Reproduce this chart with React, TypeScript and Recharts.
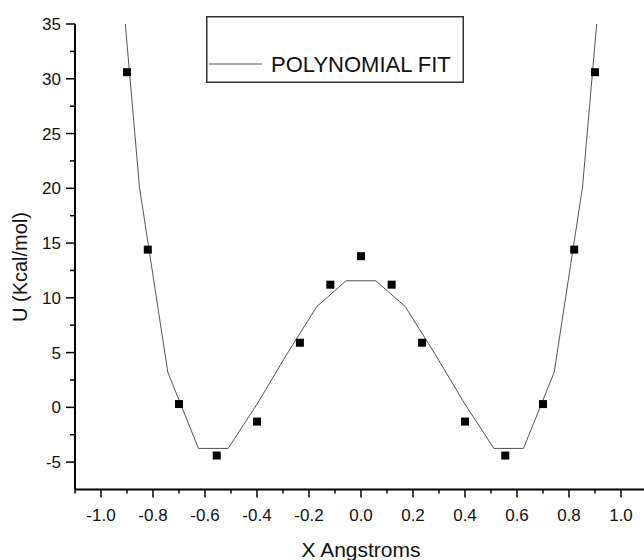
import React from 'react';
import { ComposedChart, Line, Scatter, XAxis, YAxis, Legend } from 'recharts';

const fitX = [-0.965, -0.852, -0.743, -0.625, -0.511, -0.397, -0.284, -0.17, -0.057, 0.057, 0.17, 0.284, 0.397, 0.511, 0.625, 0.743, 0.852, 0.965];
const fitU = [51, 20.1, 3.2, -3.75, -3.75, 0.4, 4.9, 9.2, 11.56, 11.56, 9.2, 4.9, 0.4, -3.75, -3.75, 3.2, 20.1, 51];

// Computed points (black squares)
const pointX = [-0.9, -0.82, -0.7, -0.555, -0.4, -0.235, -0.118, 0, 0.118, 0.235, 0.4, 0.555, 0.7, 0.82, 0.9];
const pointU = [30.6, 14.4, 0.3, -4.4, -1.3, 5.9, 11.2, 13.8, 11.2, 5.9, -1.3, -4.4, 0.3, 14.4, 30.6];

const xTicks = [-1.1, -1.0, -0.9, -0.8, -0.7, -0.6, -0.5, -0.4, -0.3, -0.2, -0.1, 0, 0.1, 0.2, 0.3, 0.4, 0.5, 0.6, 0.7, 0.8, 0.9, 1.0, 1.1];
const xMajorTicks = [-1.0, -0.8, -0.6, -0.4, -0.2, 0, 0.2, 0.4, 0.6, 0.8, 1.0];
const yTicks = [-5, -2.5, 0, 2.5, 5, 7.5, 10, 12.5, 15, 17.5, 20, 22.5, 25, 27.5, 30, 32.5, 35];
const yMajorTicks = [-5, 0, 5, 10, 15, 20, 25, 30, 35];

const seriesName = 'POLYNOMIAL FIT';
const xTitle = 'X Angstroms';
const yTitle = 'U (Kcal/mol)';

const fitData = fitX.map((x, i) => ({ x, y: fitU[i] }));
const pointData = pointX.map((x, i) => ({ x, y: pointU[i] }));

const FONT = '"Liberation Sans", Arial, sans-serif';

const isMajor = (v: number, list: number[]) => list.some((m) => Math.abs(m - v) < 1e-6);

const XTick = (props: any) => {
  const { x, y, payload } = props;
  const v = payload.value as number;
  const major = isMajor(v, xMajorTicks);
  return (
    <g>
      <line x1={x} y1={y} x2={x} y2={y + (major ? 8 : 4)} stroke="#000" strokeWidth={1.5} />
      {major && (
        <text x={x} y={y + 31} textAnchor="middle" fontFamily={FONT} fontSize={17} fill="#111">
          {v.toFixed(1)}
        </text>
      )}
    </g>
  );
};

const YTick = (props: any) => {
  const { x, y, payload } = props;
  const v = payload.value as number;
  const major = isMajor(v, yMajorTicks);
  return (
    <g>
      <line x1={x - (major ? 9 : 5)} y1={y} x2={x} y2={y} stroke="#000" strokeWidth={1.5} />
      {major && (
        <text x={x - 14} y={y} dy="0.36em" textAnchor="end" fontFamily={FONT} fontSize={17} fill="#111">
          {String(v)}
        </text>
      )}
    </g>
  );
};

const LegendBox = () => (
  <svg width={258} height={67} style={{ display: 'block' }}>
    <rect x={0.75} y={0.75} width={256.5} height={65.5} fill="#fff" stroke="#333" strokeWidth={1.5} />
    <line x1={3} y1={48} x2={56} y2={48} stroke="#555" strokeWidth={1} />
    <text x={65} y={56} fontFamily={FONT} fontSize={22} fill="#111">
      {seriesName}
    </text>
  </svg>
);

const YLabel = () => (
  <text
    x={19.5}
    y={267}
    transform="rotate(-90 19.5 267)"
    textAnchor="middle"
    dominantBaseline="central"
    fontFamily={FONT}
    fontSize={20}
    fill="#111"
  >
    {yTitle}
  </text>
);

const XLabel = (props: any) => {
  const vb = props.viewBox || {};
  const cx = (vb.x || 0) + (vb.width || 0) / 2;
  return (
    <text x={cx} y={556.5} textAnchor="middle" fontFamily={FONT} fontSize={21} fill="#111">
      {xTitle}
    </text>
  );
};

const Square = (props: any) => {
  const { cx, cy } = props;
  if (cx == null || cy == null) return null;
  return <rect x={cx - 4} y={cy - 4} width={8} height={8} fill="#000" />;
};

export default function App() {
  return (
    <div style={{ position: 'absolute', left: 0, top: 0, width: 644, height: 560, overflow: 'hidden', background: '#fff' }}>
      <ComposedChart width={650} height={560} margin={{ top: 24, right: 3, bottom: 30.5, left: 15 }}>
        <XAxis
          type="number"
          dataKey="x"
          domain={[-1.1, 1.1]}
          allowDataOverflow
          ticks={xTicks}
          interval={0}
          tickSize={0}
          tickMargin={0}
          tickLine={false}
          tick={<XTick />}
          axisLine={{ stroke: '#000', strokeWidth: 2 }}
          height={40}
          label={<XLabel />}
        />
        <YAxis
          type="number"
          dataKey="y"
          domain={[-7.5, 35]}
          allowDataOverflow
          ticks={yTicks}
          interval={0}
          tickSize={0}
          tickMargin={0}
          tickLine={false}
          tick={<YTick />}
          axisLine={{ stroke: '#000', strokeWidth: 2 }}
          width={60}
          label={<YLabel />}
        />
        <Legend
          layout="vertical"
          align="center"
          verticalAlign="middle"
          content={<LegendBox />}
          wrapperStyle={{ left: 206, top: 16, width: 258, height: 67 }}
        />
        <Line
          data={fitData}
          dataKey="y"
          type="linear"
          stroke="#555"
          strokeWidth={1}
          dot={false}
          activeDot={false}
          isAnimationActive={false}
          name={seriesName}
        />
        <Scatter
          data={pointData}
          dataKey="y"
          fill="#000"
          shape={<Square />}
          isAnimationActive={false}
          legendType="none"
        />
      </ComposedChart>
    </div>
  );
}
